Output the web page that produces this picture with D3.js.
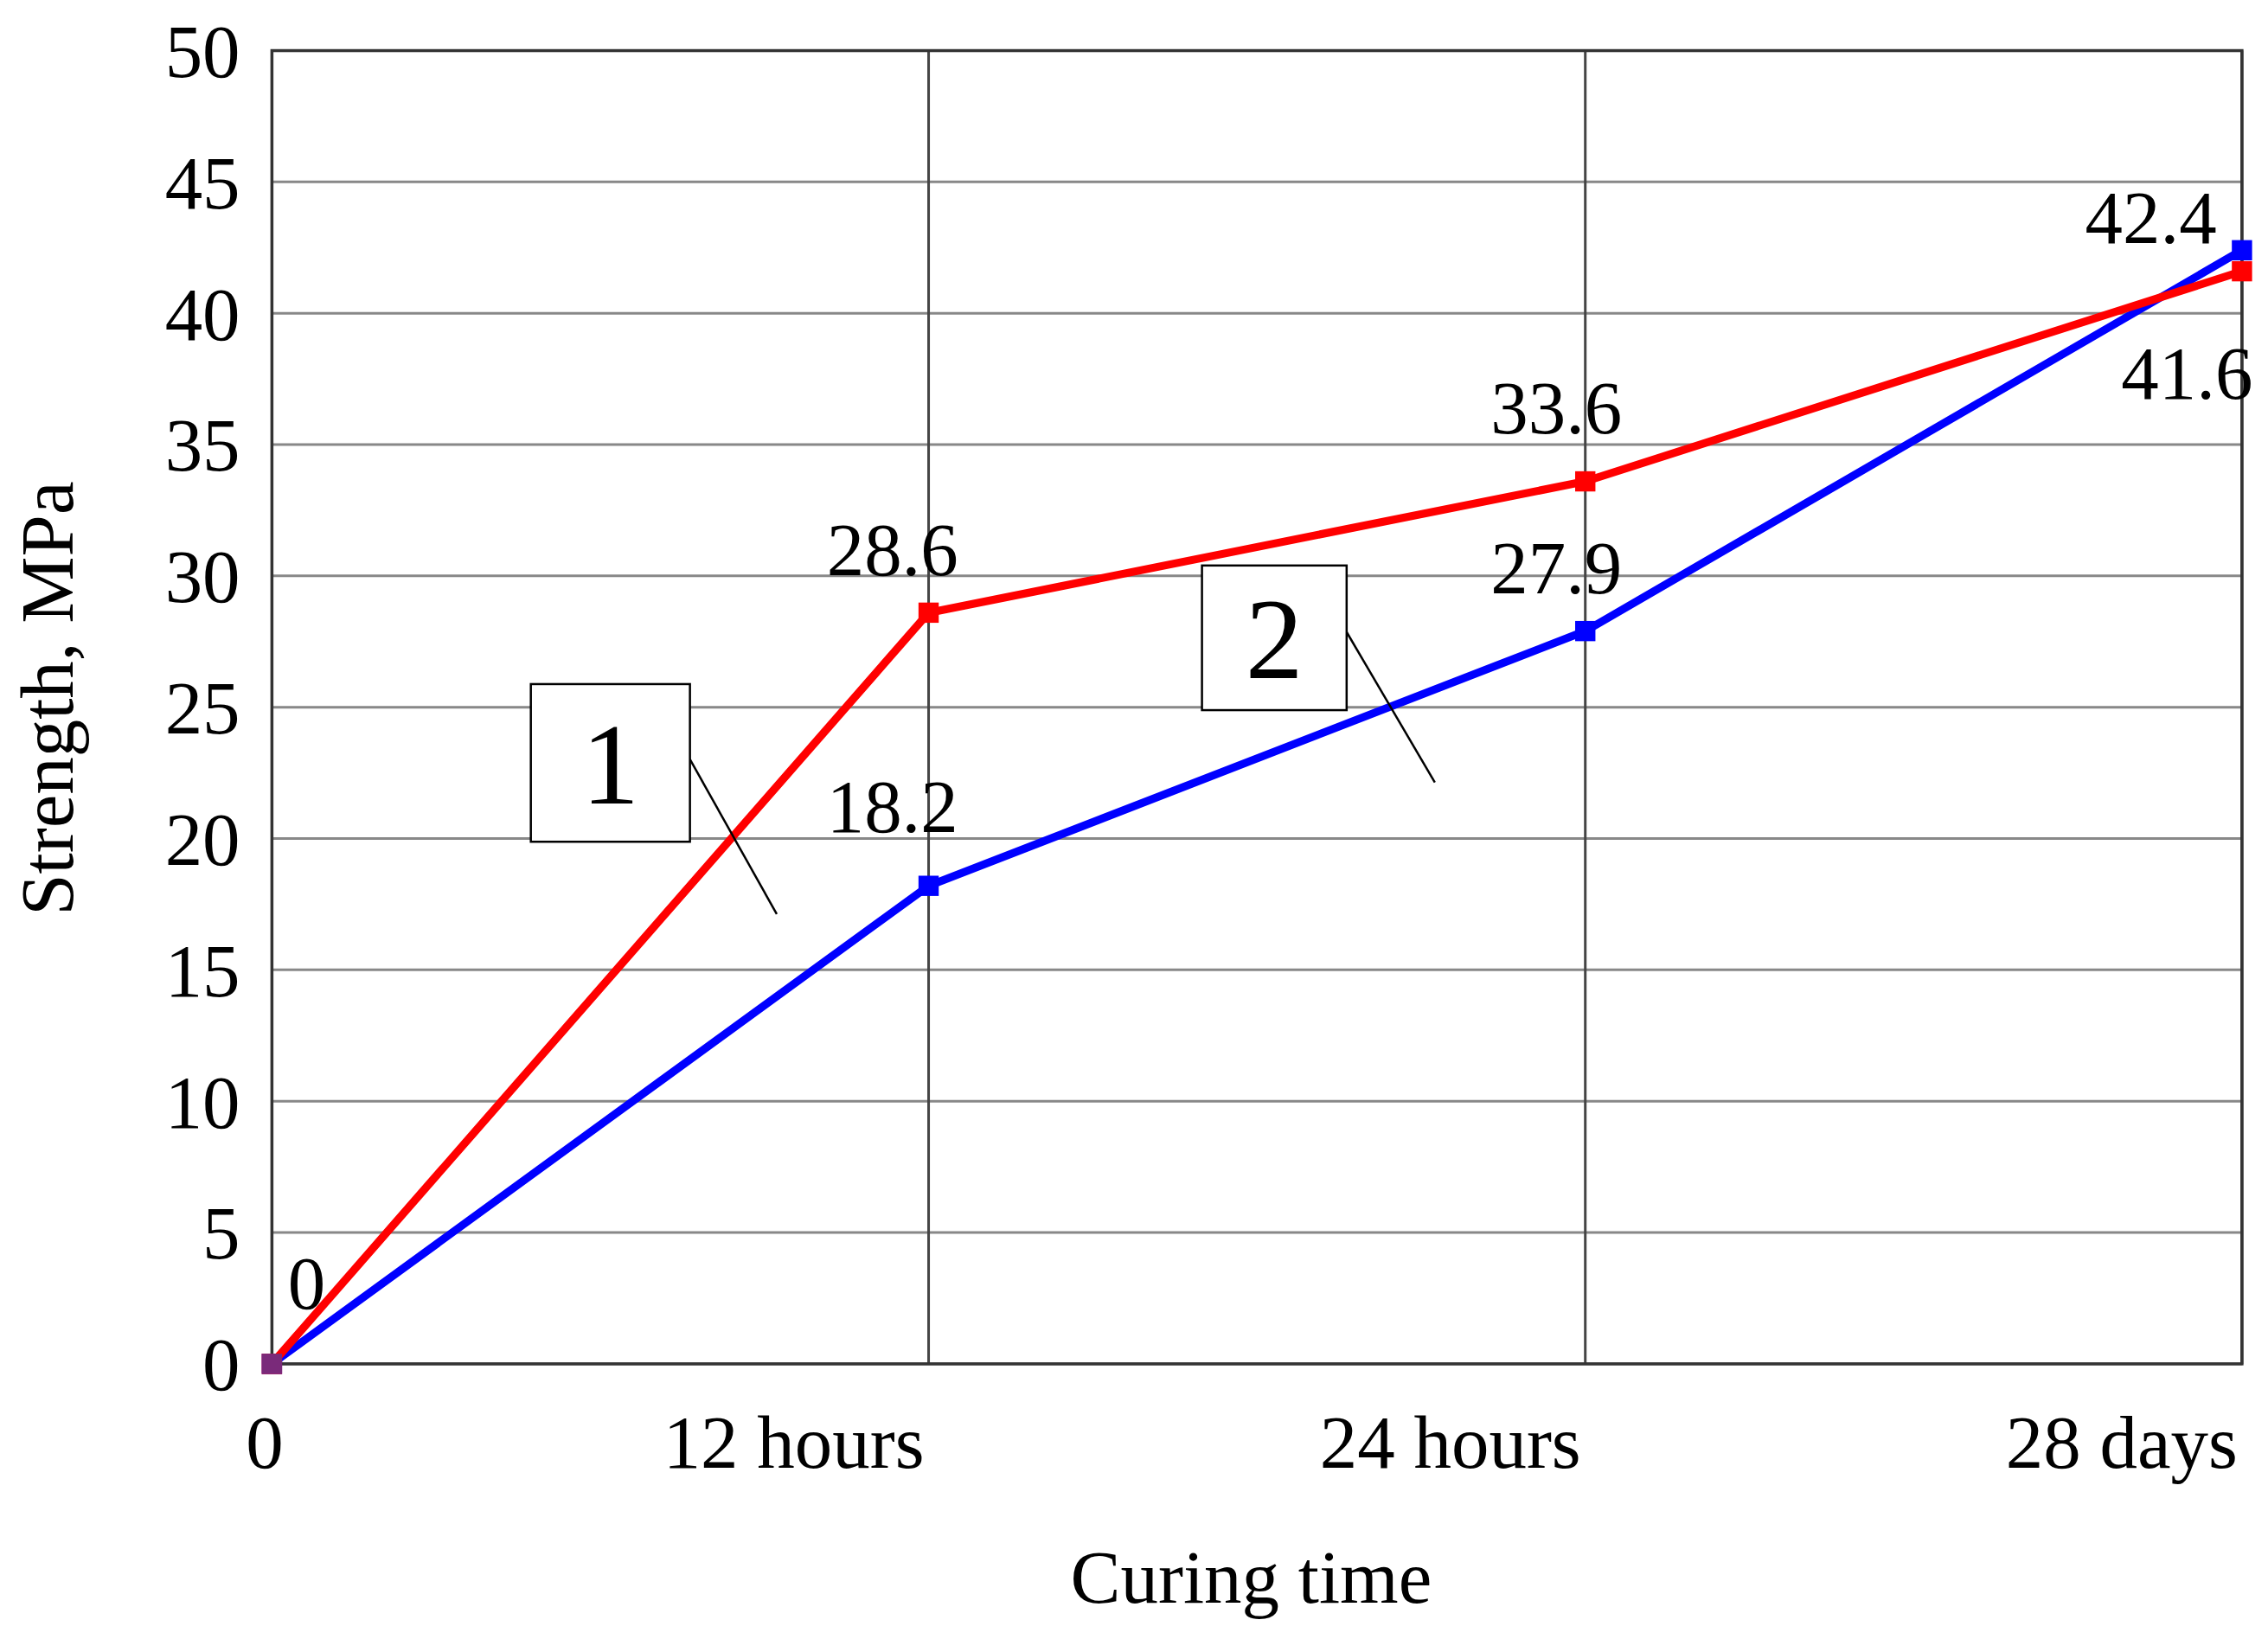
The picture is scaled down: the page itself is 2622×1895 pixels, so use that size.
<!DOCTYPE html>
<html><head><meta charset="utf-8">
<script src="https://cdn.jsdelivr.net/npm/d3@7"></script>
<style>body{margin:0;background:#fff}svg{display:block}text{font-family:"Liberation Serif","Times New Roman",serif;fill:#000}</style>
</head><body><svg id="chart"></svg>
<script>
const categories = ["0", "12 hours", "24 hours", "28 days"];
const series1 = [0, 28.6, 33.6, 41.6]; // red, curve 1
const series2 = [0, 18.2, 27.9, 42.4]; // blue, curve 2
const yTicks = [0, 5, 10, 15, 20, 25, 30, 35, 40, 45, 50];

const s = 2622 / 1568;
const W = 2622, H = 1895;
const fs = 52 * s;
const margin = { top: 35 * s, right: W - 1550 * s, bottom: H - 943 * s, left: 188 * s };
const width = W - margin.left - margin.right;
const height = H - margin.top - margin.bottom;

const svg = d3.select("#chart").attr("width", W).attr("height", H);
const chart = svg.append("g").attr("transform", `translate(${margin.left},${margin.top})`);

const x = d3.scalePoint().domain(categories).range([0, width]);
const y = d3.scaleLinear().domain([0, 50]).range([height, 0]);

// grid
chart.selectAll(".hg").data(yTicks).enter().append("line")
  .attr("x1", 0).attr("x2", width).attr("y1", d => y(d)).attr("y2", d => y(d))
  .attr("stroke", "#888").attr("stroke-width", 3);
chart.selectAll(".vg").data(categories.slice(1)).enter().append("line")
  .attr("x1", d => x(d)).attr("x2", d => x(d)).attr("y1", 0).attr("y2", height)
  .attr("stroke", "#444").attr("stroke-width", 3);
chart.append("rect").attr("width", width).attr("height", height)
  .attr("fill", "none").attr("stroke", "#333").attr("stroke-width", 3.5);

// y ticks
chart.selectAll(".yt").data(yTicks).enter().append("text")
  .attr("x", -22 * s).attr("y", d => y(d)).attr("dy", "0.35em")
  .attr("text-anchor", "end").attr("font-size", fs).text(d => d);
// x ticks
chart.selectAll(".xt").data(categories).enter().append("text")
  .attr("x", (d, i) => i === 0 ? x(d) - 5 * s : x(d) - 3 * s)
  .attr("y", height + 72 * s)
  .attr("text-anchor", (d, i) => i === 0 ? "middle" : "end")
  .attr("font-size", fs).text(d => d);

svg.append("text").attr("x", 865 * s).attr("y", 1108 * s)
  .attr("text-anchor", "middle").attr("font-size", fs).text("Curing time");
svg.append("text").attr("transform", `translate(${50 * s},${483 * s}) rotate(-90)`)
  .attr("text-anchor", "middle").attr("font-size", fs).text("Strength, MPa");

const line = d3.line().x((d, i) => x(categories[i])).y(d => y(d));
function drawSeries(vals, color) {
  chart.append("path").datum(vals).attr("d", line)
    .attr("fill", "none").attr("stroke", color).attr("stroke-width", 5.5 * s);
  chart.selectAll(null).data(vals).enter().append("rect")
    .attr("x", (d, i) => x(categories[i]) - 7 * s).attr("y", d => y(d) - 7 * s)
    .attr("width", 14 * s).attr("height", 14 * s).attr("fill", color);
}
drawSeries(series2, "#0000ff");
drawSeries(series1, "#ff0000");
chart.append("rect").attr("x", -7 * s).attr("y", y(0) - 7 * s)
  .attr("width", 14 * s).attr("height", 14 * s).attr("fill", "#7a2a7a");

// data labels [category index, dx, dy] in reference px
const labels1 = [[1, -25, -26], [2, -20, -33], [3, -38, 88]];
const labels2 = [[0, 24, -38], [1, -25, -37], [2, -20, -26], [3, -63, -5]];
function drawLabels(vals, spec) {
  spec.forEach(([i, dx, dy]) => {
    chart.append("text").attr("x", x(categories[i]) + dx * s).attr("y", y(vals[i]) + dy * s)
      .attr("text-anchor", "middle").attr("font-size", fs).text(vals[i]);
  });
}
drawLabels(series1, labels1);
drawLabels(series2, labels2);

// curve labels
function tag(txt, bx, by, bw, bh, lx1, ly1, lx2, ly2) {
  svg.append("line").attr("x1", lx1 * s).attr("y1", ly1 * s).attr("x2", lx2 * s).attr("y2", ly2 * s)
    .attr("stroke", "#000").attr("stroke-width", 2.5);
  svg.append("rect").attr("x", bx * s).attr("y", by * s).attr("width", bw * s).attr("height", bh * s)
    .attr("fill", "#fff").attr("stroke", "#000").attr("stroke-width", 2.5);
  svg.append("text").attr("x", (bx + bw / 2) * s).attr("y", (by + bh / 2) * s).attr("dy", "0.35em")
    .attr("text-anchor", "middle").attr("font-size", 80 * s).text(txt);
}
tag("1", 367, 473, 110, 109, 477, 525, 537, 632);
tag("2", 831, 391, 100, 100, 931, 437, 992, 541);
</script></body></html>
